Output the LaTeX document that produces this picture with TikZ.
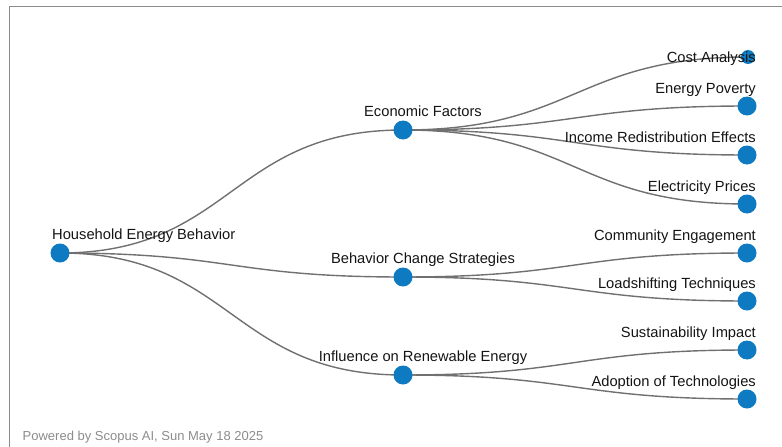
\documentclass[tikz,border=0pt]{standalone}
\usepackage{fontspec}
\setmainfont{Liberation Sans}
\usetikzlibrary{positioning}
\usetikzlibrary{backgrounds}
\definecolor{scopusblue}{RGB}{14,122,193}
\definecolor{linkgray}{RGB}{112,112,112}
\definecolor{framegray}{RGB}{140,140,140}
\tikzset{dot/.style = {fill=scopusblue, circle, inner sep = 0, minimum size = 19}}
\tikzset{link/.style = {draw=linkgray, line width = 1.4}}
\tikzset{lbl/.style = {inner sep = 0, text = black!92, font = \fontsize{14.7}{17}\selectfont}}

\begin{document}
\begin{tikzpicture}[x=1pt, y=-1pt]
      \useasboundingbox (0, 0) rectangle (782, 447);
      \draw [framegray, line width=1.5] (9.5, 447) -- (9.5, 6.5) -- (782, 6.5);

      \node [dot] (root) at (60, 253) {};
      \node [dot] (econ) at (403, 130) {};
      \node [dot] (behav) at (403, 277) {};
      \node [dot] (renew) at (403, 375) {};

      \node [dot, minimum size = 14] (cost) at (748, 57) {};
      \node [dot] (poverty) at (747, 106) {};
      \node [dot] (income) at (747, 155) {};
      \node [dot] (prices) at (747, 204) {};
      \node [dot] (community) at (747, 253) {};
      \node [dot] (loadshift) at (747, 301) {};
      \node [dot] (sustain) at (747, 350) {};
      \node [dot] (adopt) at (747, 399) {};

      \begin{scope}[on background layer]
        \foreach \a/\b in {root/econ, root/behav, root/renew, econ/cost, econ/poverty, econ/income, econ/prices, behav/community, behav/loadshift, renew/sustain, renew/adopt}
          \draw [link] (\a.center) .. controls +(172, 0) and +(-172, 0) .. (\b.center);
      \end{scope}

      \node [lbl, anchor=base west] (root-lbl) at ([shift={(-8, -13.5)}]root.center) {Household Energy Behavior};
      \node [lbl, anchor=base] (econ-lbl) at ([shift={(20, -14)}]econ.center) {Economic Factors};
      \node [lbl, anchor=base] (behav-lbl) at ([shift={(20, -14)}]behav.center) {Behavior Change Strategies};
      \node [lbl, anchor=base] (renew-lbl) at ([shift={(20, -14)}]renew.center) {Influence on Renewable Energy};

      \node [lbl, anchor=base east] (cost-lbl) at ([shift={(8, 5)}]cost.center) {Cost Analysis};
      \foreach \n/\t in {poverty/Energy Poverty, income/Income Redistribution Effects, prices/Electricity Prices, community/Community Engagement, loadshift/Loadshifting Techniques, sustain/Sustainability Impact, adopt/Adoption of Technologies}
        \node [lbl, anchor=base east] (\n-lbl) at ([shift={(9, -13)}]\n.center) {\t};

      \node [lbl, anchor=base west, text=black!45, font=\fontsize{13}{15}\selectfont] (footer) at (22.5, 440) {Powered by Scopus AI, Sun May 18 2025};
    \end{tikzpicture}
\end{document}
